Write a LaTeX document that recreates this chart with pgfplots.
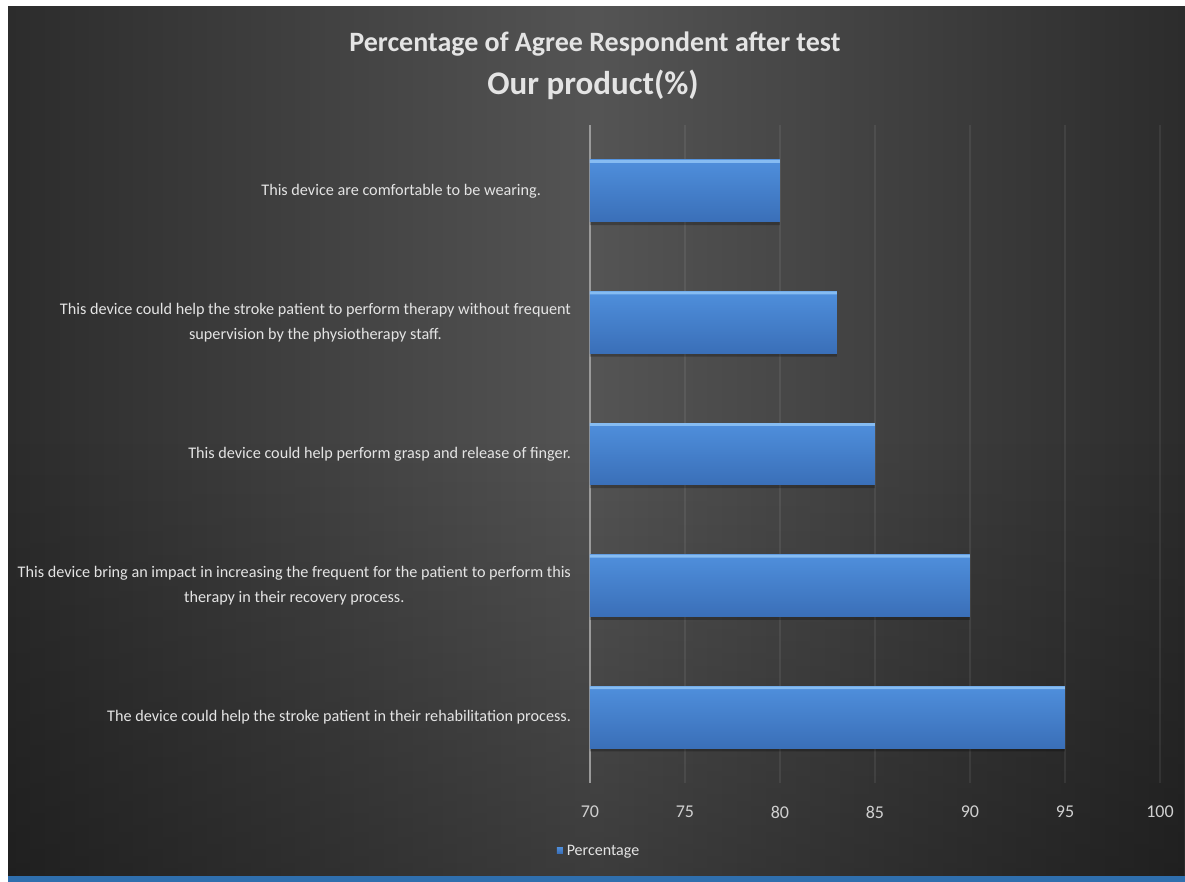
\documentclass[border=0pt]{standalone}
\usepackage{pgfplots}
\pgfplotsset{compat=1.18}
\usetikzlibrary{fadings}
\usepackage{fontspec}
\setmainfont{Carlito}
\definecolor{bgcenter}{HTML}{545454}
\definecolor{bgedge}{HTML}{2C2C2C}
\definecolor{barlight}{HTML}{4F8FDC}
\definecolor{barbot}{HTML}{3A6FB8}
\definecolor{barhigh}{HTML}{86BCF2}
\definecolor{labelgray}{HTML}{E4E4E4}
\definecolor{tickgray}{HTML}{D0D0D0}
\definecolor{axisgray}{HTML}{9A9A9A}
\definecolor{stripblue}{HTML}{2F6FAE}
\begin{document}
\begin{tikzpicture}[x=0.5pt,y=0.5pt]
% canvas: 1185 x 882 units
\fill[white] (0,0) rectangle (1185,882);
\shade[left color=bgedge, right color=bgedge, middle color=bgcenter] (8,6) rectangle (1185,875);
\fill[black, opacity=0.28, path fading=north] (8,6) rectangle (1185,440);
\fill[stripblue] (8,0) rectangle (1185,6);
% titles
\node[font=\bfseries\fontsize{14}{17}\selectfont, text=labelgray] at (595,838)
  {Percentage of Agree Respondent after test};
\node[font=\bfseries\fontsize{16.5}{20}\selectfont, text=labelgray] at (593,797)
  {Our product(\%)};
\begin{axis}[
  at={(295pt,49.5pt)}, anchor=south west,
  width=285pt, height=329pt, scale only axis,
  xmin=70, xmax=100, ymin=-0.5, ymax=4.5,
  xtick={70,75,...,100},
  ytick={0,1,2,3,4},
  yticklabels={
    {The device could help the stroke patient in their rehabilitation process.},
    {This device bring an impact in increasing the frequent for the patient to perform this\\therapy in their recovery process.},
    {This device could help perform grasp and release of finger.},
    {This device could help the stroke patient to perform therapy without frequent\\supervision by the physiotherapy staff.},
    {This device are comfortable to be wearing.\hspace*{15pt}}
  },
  axis x line*=bottom, axis y line*=left,
  axis line style={-},
  x axis line style={draw=none},
  y axis line style={draw=axisgray, line width=0.8pt},
  major tick length=0pt,
  tick style={draw=none},
  xmajorgrids,
  major grid style={draw=white, opacity=0.07, line width=0.6pt},
  xticklabel style={font=\fontsize{9}{11}\selectfont, text=tickgray, yshift=-8pt},
  yticklabel style={font=\fontsize{8.1}{12.5}\selectfont, text=labelgray, align=center, xshift=-6pt},
  /pgf/number format/assume math mode=true,
  legend style={at={(0.0175,-0.105)}, anchor=center, draw=none, fill=none,
    text=labelgray, font=\fontsize{8}{9}\selectfont},
  legend image code/.code={\fill[barlight] (0pt,-0.5pt) rectangle (3pt,2.5pt);},
  shadowbar/.style={xbar, bar width=0.47, bar shift=-0.025, draw=none, fill=black, opacity=0.25, forget plot},
  bodybar/.style={xbar, bar width=0.47, draw=none, top color=barlight, bottom color=barbot},
  highbar/.style={xbar, bar width=0.022, bar shift=0.224, draw=none, fill=barhigh, forget plot},
]
% drop shadow under the bars
\addplot[shadowbar] coordinates {(95,0) (90,1) (85,2) (83,3) (80,4)};
% one path per bar so each gets its own vertical gradient
\addplot[bodybar] coordinates {(95,0)};
\addlegendentry{Percentage}
\addplot[bodybar, forget plot] coordinates {(90,1)};
\addplot[bodybar, forget plot] coordinates {(85,2)};
\addplot[bodybar, forget plot] coordinates {(83,3)};
\addplot[bodybar, forget plot] coordinates {(80,4)};
% bevel highlight along the top edge
\addplot[highbar] coordinates {(95,0) (90,1) (85,2) (83,3) (80,4)};
\end{axis}
\end{tikzpicture}
\end{document}
